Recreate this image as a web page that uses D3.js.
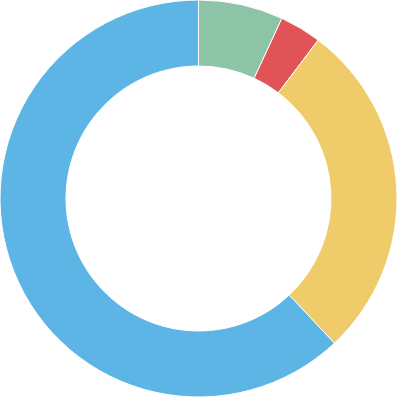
<!DOCTYPE html>
<meta charset="utf-8">
<script src="https://cdn.jsdelivr.net/npm/d3@7"></script>
<style>
body { margin: 0; background: #fff; }
</style>
<body>
<script>
var labels = ["Green", "Red", "Yellow", "Blue"];
var values = [6.9, 3.4, 27.7, 62.0];
var colors = ["#8dc4a8", "#e05457", "#f0cb69", "#5db5e5"];

var width = 400, height = 400;
var cx = 198.5, cy = 198.5;
var outer = 198.5, inner = 132.5;

var svg = d3.select("body").append("svg")
    .attr("width", width)
    .attr("height", height);

var pie = d3.pie().sort(null).value(function(d) { return d; });
var arc = d3.arc().innerRadius(inner).outerRadius(outer);

var g = svg.append("g")
    .attr("transform", "translate(" + cx + "," + cy + ")");

g.selectAll("path")
    .data(pie(values))
    .enter().append("path")
    .attr("d", arc)
    .attr("fill", function(d, i) { return colors[i]; })
    .attr("stroke", "#fff")
    .attr("stroke-width", 1)
    .append("title")
    .text(function(d, i) { return labels[i]; });
</script>
</body>
